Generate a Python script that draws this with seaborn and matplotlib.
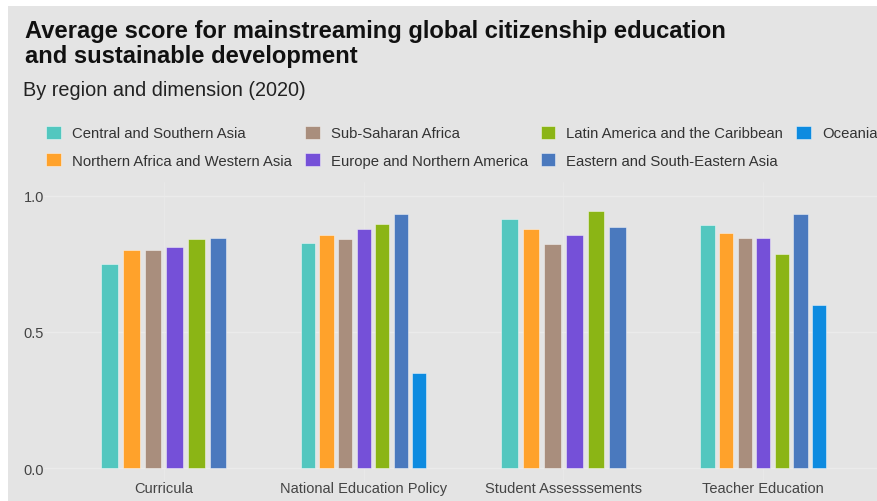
import numpy as np
import pandas as pd
import matplotlib
matplotlib.use("Agg")
import matplotlib.pyplot as plt
from matplotlib.patches import Patch, Rectangle
import seaborn as sns

# ---- data ----
dimensions = ["Curricula", "National Education Policy", "Student Assesssements", "Teacher Education"]
regions = [
    "Central and Southern Asia",
    "Northern Africa and Western Asia",
    "Sub-Saharan Africa",
    "Europe and Northern America",
    "Latin America and the Caribbean",
    "Eastern and South-Eastern Asia",
    "Oceania",
]
central_southern_asia = [0.750, 0.826, 0.914, 0.892]
northern_africa_western_asia = [0.800, 0.857, 0.877, 0.864]
sub_saharan_africa = [0.800, 0.841, 0.824, 0.844]
europe_northern_america = [0.813, 0.878, 0.857, 0.844]
latin_america_caribbean = [0.842, 0.895, 0.943, 0.787]
eastern_south_eastern_asia = [0.845, 0.932, 0.886, 0.933]
oceania = [np.nan, 0.348, np.nan, 0.599]

series = [central_southern_asia, northern_africa_western_asia, sub_saharan_africa,
          europe_northern_america, latin_america_caribbean, eastern_south_eastern_asia, oceania]
colors = ["#52C7BF", "#FFA22B", "#A98E7D", "#7550D8", "#8BB515", "#4A79BE", "#0D8BE0"]
palette = dict(zip(regions, colors))

rows = []
for reg, vals in zip(regions, series):
    for dim, v in zip(dimensions, vals):
        rows.append({"dimension": dim, "region": reg, "score": v})
df = pd.DataFrame(rows).dropna()

# ---- style ----
BG = "#E4E4E4"
sns.set_style("dark", {"axes.facecolor": BG})
plt.rcParams["font.family"] = ["Liberation Sans", "DejaVu Sans"]

W, H = 878, 502
fig = plt.figure(figsize=(W / 100, H / 100), dpi=100, facecolor="white")
fig.add_artist(Rectangle((8 / W, 0), 1, (H - 7) / H, transform=fig.transFigure,
                         facecolor=BG, edgecolor="none", zorder=-10))

# axes: y 0 -> 469.3px, 1.0 -> 196.7px ; ylim (-0.05, 1.05)
ppu = 272.6
y_bot = 469.3 + 0.05 * ppu
y_top = 196.7 - 0.05 * ppu
left_px = 44
ax = fig.add_axes([left_px / W, (H - y_bot) / H, (W - left_px) / W, (y_bot - y_top) / H])
ax.set_facecolor(BG)

for dim in dimensions:
    sub = df[df["dimension"] == dim]
    present = [r for r in regions if r in set(sub["region"])]
    sns.barplot(data=sub, x="dimension", y="score", hue="region", order=dimensions,
                hue_order=present, palette=palette, width=0.65, gap=0.23, saturation=1,
                errorbar=None, legend=False, ax=ax,
                edgecolor=(1, 1, 1, 0.45), linewidth=0.7, zorder=3)

ax.set_ylim(-0.05, 1.05)
ax.set_xlim(-0.6, -0.6 + (W - left_px) / 199.8)
ax.set_yticks([0, 0.5, 1.0])
ax.set_yticklabels(["0.0", "0.5", "1.0"])
ax.set_xlabel("")
ax.set_ylabel("")
for s in ax.spines.values():
    s.set_visible(False)
ax.set_axisbelow(True)
ax.yaxis.grid(True, color="#EBEBEB", linewidth=1.0, zorder=0)
ax.xaxis.grid(True, color="#E8E8E8", linewidth=1.0, zorder=0)
ax.tick_params(axis="both", length=0, labelsize=10.5, labelcolor="#444444")
ax.tick_params(axis="y", pad=0)
ax.tick_params(axis="x", pad=-1)

# ---- titles ----
fig.text(25 / W, 1 - 38 / H, "Average score for mainstreaming global citizenship education",
         fontsize=17.1, fontweight="bold", color="#111111", va="baseline", ha="left")
fig.text(25 / W, 1 - 62.7 / H, "and sustainable development",
         fontsize=17.1, fontweight="bold", color="#111111", va="baseline", ha="left")
fig.text(23 / W, 1 - 96 / H, "By region and dimension (2020)",
         fontsize=14.3, color="#222222", va="baseline", ha="left")

# ---- legend ----
handles = [Patch(facecolor=palette[r], edgecolor=(1, 1, 1, 0.45), linewidth=0.7) for r in regions]
leg = fig.legend(handles, regions, loc="upper left", bbox_to_anchor=(46 / W, 1 - 126.5 / H),
                 ncol=4, frameon=False, fontsize=10.7, handlelength=1.0, handleheight=1.0,
                 handletextpad=0.74, columnspacing=0.87, labelspacing=0.87,
                 borderpad=0, borderaxespad=0)
for t in leg.get_texts():
    t.set_color("#333333")

fig.savefig("out.png", dpi=100, facecolor="white")
